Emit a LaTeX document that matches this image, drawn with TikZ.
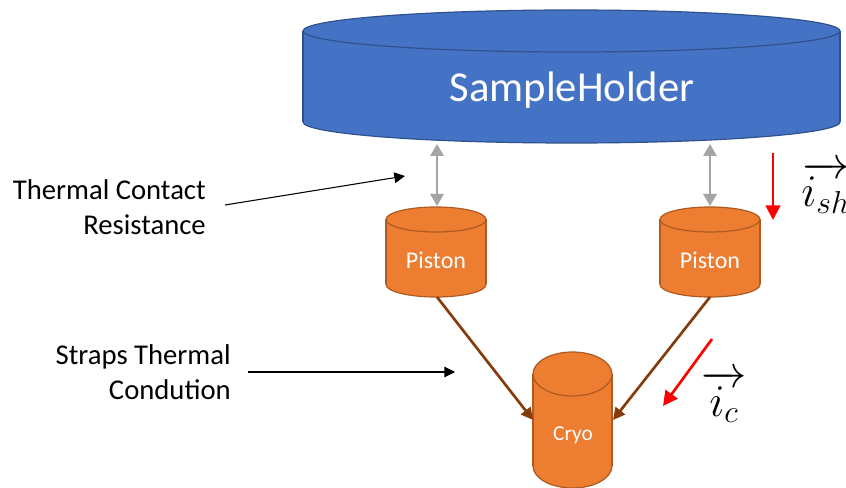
\RequirePackage{fix-cm}
\documentclass[tikz,border=0pt]{standalone}
\usepackage{fontspec}
\setmainfont{Carlito}
\usetikzlibrary{arrows.meta}
\definecolor{shfill}{HTML}{4472C4}
\definecolor{shdraw}{HTML}{2F528F}
\definecolor{orfill}{HTML}{ED7D31}
\definecolor{ordraw}{HTML}{AE5A21}
\definecolor{strap}{HTML}{843C0C}
\definecolor{gray1}{HTML}{A5A5A5}
\newcommand\mycyl[8]{% #1 cx, #2 top cy, #3 bottom cy, #4 rx, #5 ry, #6 fill, #7 draw, #8 width
  \filldraw[fill=#6,draw=#7,line width=#8] (#1,#3) ellipse [x radius=#4,y radius=#5];
  \fill[#6] (#1-#4,#2) rectangle (#1+#4,#3);
  \draw[#7,line width=#8] (#1-#4,#2) -- (#1-#4,#3) (#1+#4,#2) -- (#1+#4,#3);
  \filldraw[fill=#6,draw=#7,line width=#8] (#1,#2) ellipse [x radius=#4,y radius=#5];
}
\tikzset{
  grayarrow/.style={draw=gray1,line width=1.6pt,{Triangle[length=9pt,width=10pt]}-{Triangle[length=9pt,width=10pt]}},
  straparrow/.style={draw=strap,line width=2pt,-{Triangle[length=9pt,width=9pt]}},
  redarrow/.style={draw=red,line width=2pt,-{Triangle[length=11pt,width=11pt]}},
  blackarrow/.style={draw=black,line width=0.8pt,-{Triangle[length=8pt,width=8pt]}},
  lbl/.style={align=right,font=\fontsize{21.5}{26.25}\selectfont,inner sep=0pt},
  ctext/.style={text=white,inner sep=0pt},
  mathlbl/.style={inner sep=0pt,anchor=base west,font=\fontsize{34}{40}\selectfont},
}
\begin{document}
\begin{tikzpicture}[x=0.75pt,y=-0.75pt]
\clip (0,0) rectangle (846,488);
\fill[white] (0,0) rectangle (846,488);
% Sample holder
\mycyl{571.5}{31}{122}{268.5}{21}{shfill}{shdraw}{0.9pt}
\node[ctext,font=\fontsize{32}{36}\selectfont] (sh) at (572,90) {SampleHolder};
% Pistons
\mycyl{436}{219.5}{284.5}{50}{12.5}{orfill}{ordraw}{0.9pt}
\mycyl{710}{219.5}{284.5}{50}{12.5}{orfill}{ordraw}{0.9pt}
\node[ctext,font=\fontsize{18}{22}\selectfont] (p1) at (436,260) {Piston};
\node[ctext,font=\fontsize{18}{22}\selectfont] (p2) at (710,260) {Piston};
% Cryo
\mycyl{572.5}{374}{466}{39.5}{22}{orfill}{ordraw}{0.9pt}
\node[ctext,font=\fontsize{16}{20}\selectfont] (cryo) at (573,435) {Cryo};
% anchor coordinates
\coordinate (sh1) at (437,144);
\coordinate (sh2) at (710,144);
\coordinate (p1t) at (437,206);
\coordinate (p2t) at (710,206);
\coordinate (p1b) at (437,297);
\coordinate (p2b) at (710,297);
\coordinate (cl) at (533,420);
\coordinate (cr) at (613,420);
% gray contact arrows
\draw[grayarrow] (sh1) -- (p1t);
\draw[grayarrow] (sh2) -- (p2t);
% straps
\draw[straparrow] (p1b) -- (cl);
\draw[straparrow] (p2b) -- (cr);
% red arrows
\coordinate (r1s) at (773,153);
\coordinate (r1e) at (773,220);
\coordinate (r2s) at (712,339);
\coordinate (r2e) at (663,406);
\draw[redarrow] (r1s) -- (r1e);
\draw[redarrow] (r2s) -- (r2e);
% math labels
\node[mathlbl] (ish) at (801,207) {$\overrightarrow{i_{sh}}$};
\node[mathlbl] (ic) at (701,416) {$\overrightarrow{i_{c}}$};
% left labels
\node[lbl,anchor=east] (tcr) at (206,207) {Thermal Contact\\Resistance};
\node[lbl,anchor=east] (stc) at (231,372) {Straps Thermal\\Condution};
\coordinate (tcre) at (405,176);
\coordinate (stce) at (455,372);
\draw[blackarrow] (tcr.east) ++(19,-2) -- (tcre);
\draw[blackarrow] (stc.east) ++(17,0) -- (stce);
\end{tikzpicture}
\end{document}
